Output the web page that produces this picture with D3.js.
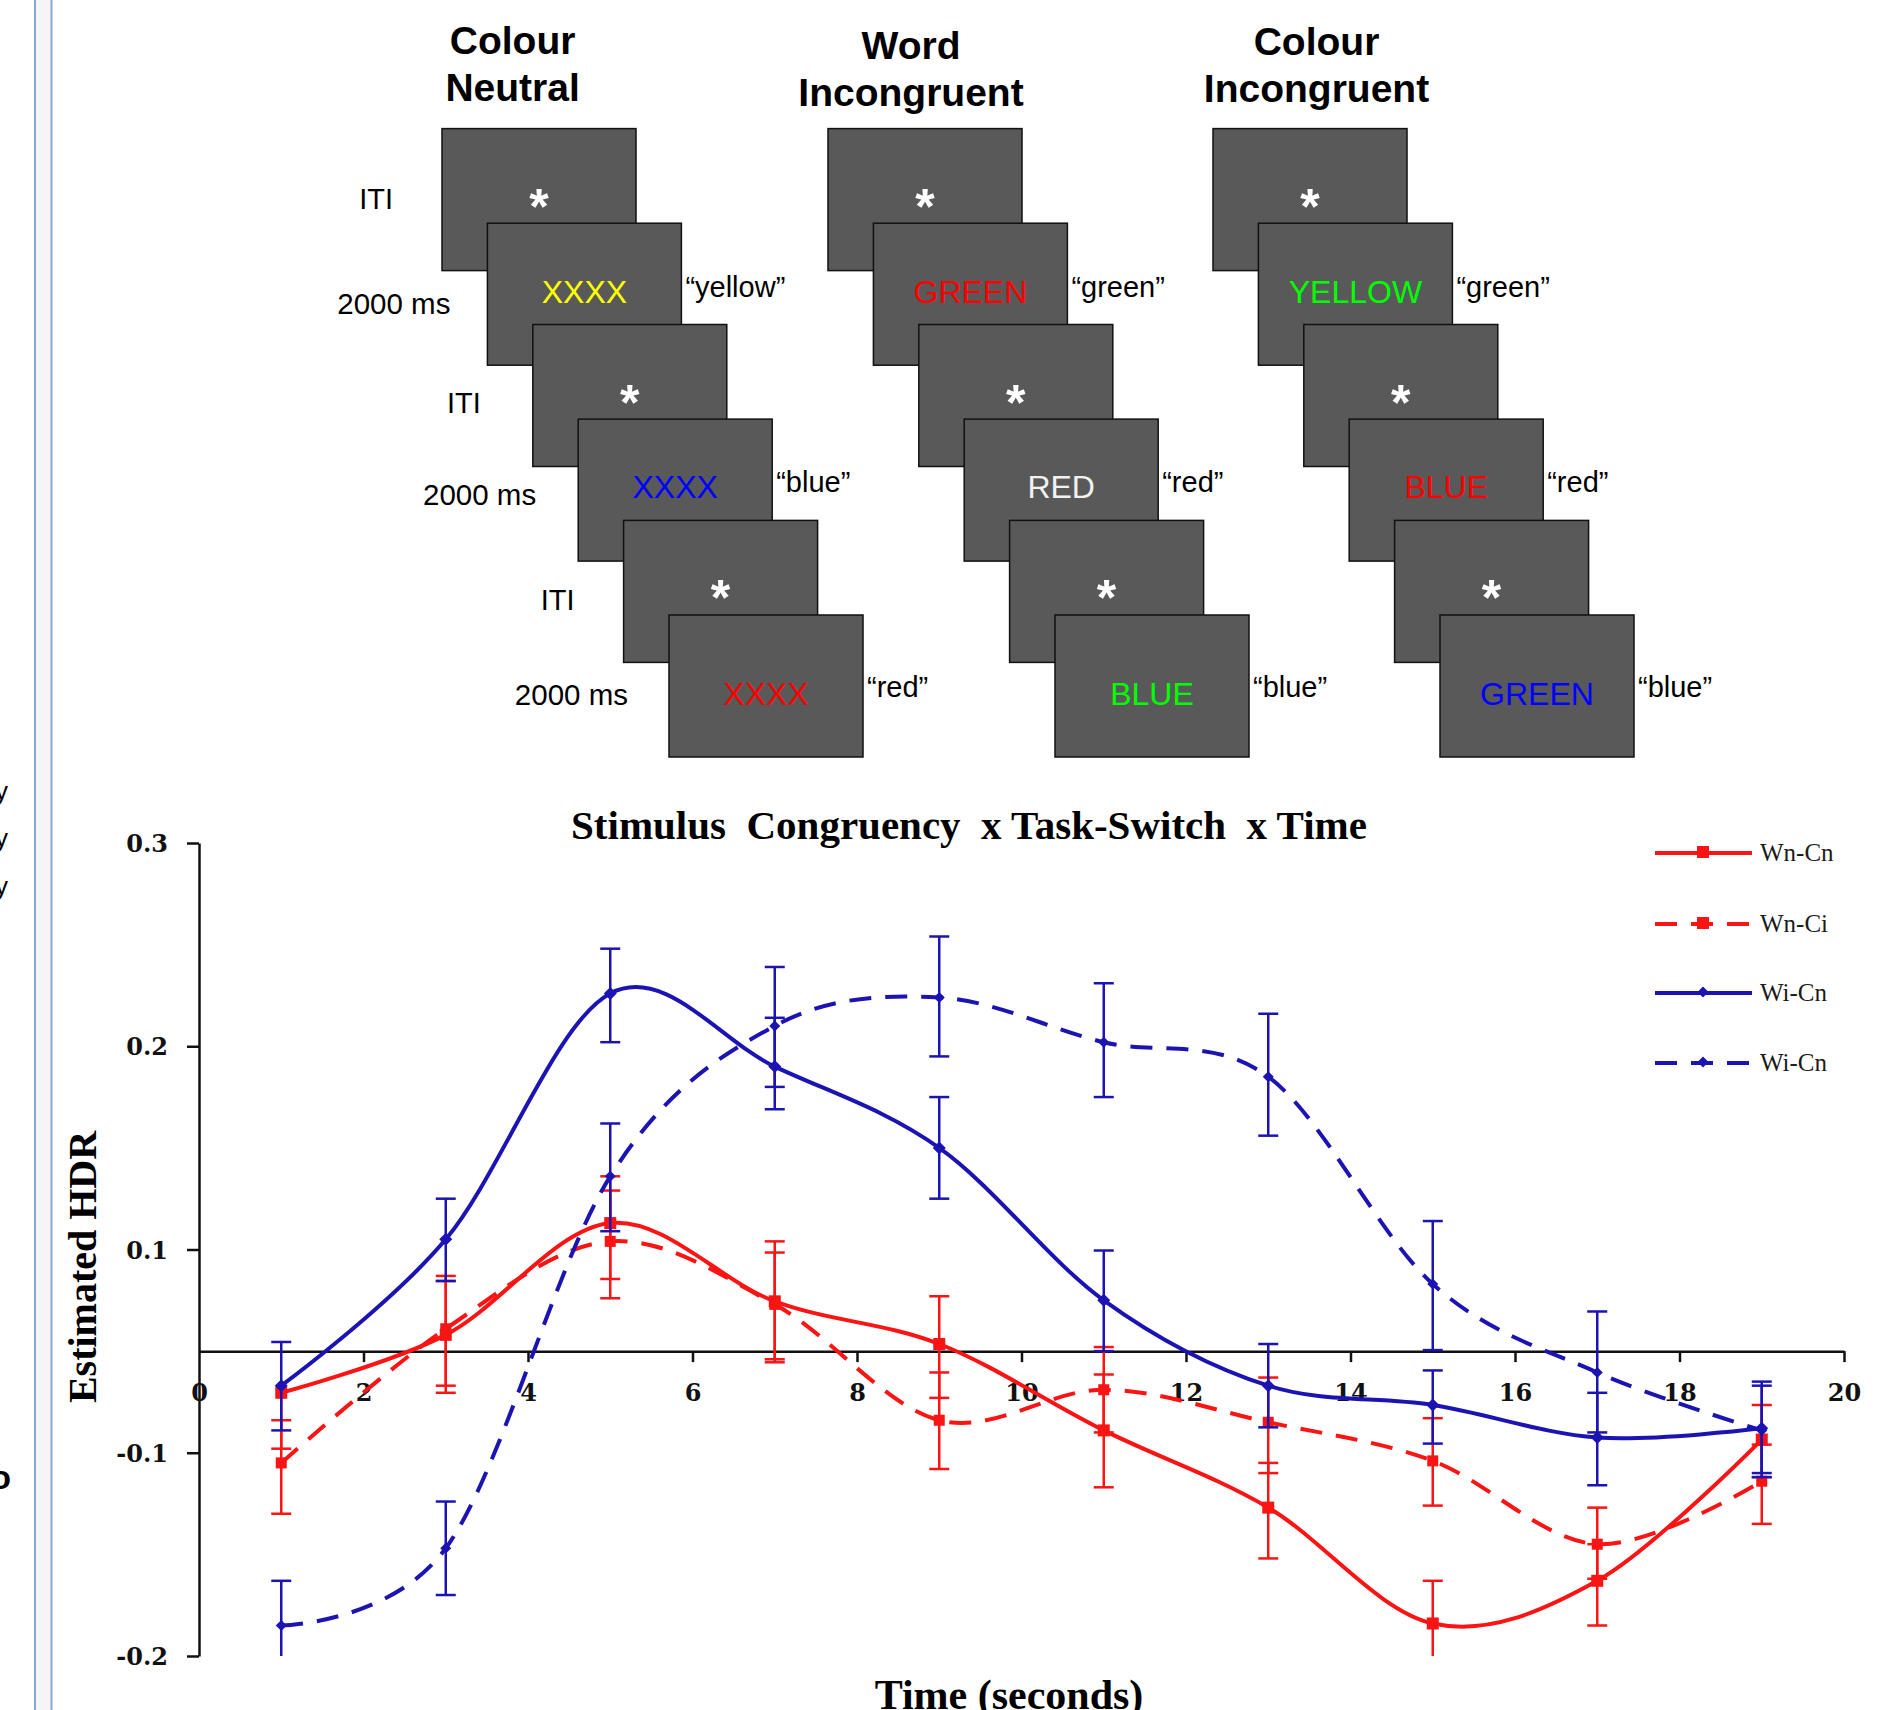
<!DOCTYPE html>
<html>
<head>
<meta charset="utf-8">
<script src="https://cdn.jsdelivr.net/npm/d3@7"></script>
<style>
  html, body { margin: 0; padding: 0; background: #fff; }
  svg { display: block; }
  .sans { font-family: "Liberation Sans", Arial, sans-serif; }
  .serif { font-family: "Liberation Serif", "Times New Roman", serif; }
  .tick-font { font-family: "DejaVu Serif", serif; font-weight: bold; }
</style>
</head>
<body>
<script>
/** Task diagram: one column per condition. */
const conditionTitles = [["Colour", "Neutral"], ["Word", "Incongruent"], ["Colour", "Incongruent"]];
const stimulusWords = [["XXXX", "XXXX", "XXXX"], ["GREEN", "RED", "BLUE"], ["YELLOW", "BLUE", "GREEN"]];
const inkColours = [["#ffff00", "#0000ff", "#ff0000"], ["#ff0000", "#f2f2f2", "#00ff00"], ["#00ff00", "#ff0000", "#0000ff"]];
const responses = [["“yellow”", "“blue”", "“red”"], ["“green”", "“red”", "“blue”"], ["“green”", "“red”", "“blue”"]];
const itiLabel = "ITI";
const durationLabel = "2000 ms";

/** Chart data: estimated HDR per time point (seconds). */
const timePoints = [1, 3, 5, 7, 9, 11, 13, 15, 17, 19];
const seriesNames = ["Wn-Cn", "Wn-Ci", "Wi-Cn", "Wi-Cn"];
const wnCn = [-0.041, 0.016, 0.113, 0.049, 0.007, -0.078, -0.127, -0.184, -0.163, -0.087];
const wnCnHi = [null, 0.069, 0.136, 0.097, 0.054, -0.023, -0.105, -0.163, -0.145, -0.053];
const wnCnLo = [-0.096, -0.041, 0.071, -0.008, -0.046, -0.117, -0.152, -0.205, -0.185, -0.112];
const wnCi = [-0.105, 0.022, 0.104, 0.046, -0.068, -0.038, -0.070, -0.104, -0.145, -0.114];
const wnCiHi = [-0.068, 0.074, 0.129, 0.104, -0.021, 0.004, -0.026, -0.066, -0.127, -0.092];
const wnCiLo = [-0.130, -0.034, 0.052, -0.011, -0.108, -0.080, -0.110, -0.126, -0.162, -0.135];
const wiCn = [-0.034, 0.105, 0.226, 0.190, 0.150, 0.050, -0.034, -0.053, -0.085, -0.076];
const wiCnHi = [0.009, 0.125, 0.248, 0.214, 0.175, 0.099, 0.007, -0.019, -0.041, -0.030];
const wiCnLo = [-0.078, 0.069, 0.202, 0.169, 0.125, 0.000, -0.075, -0.091, -0.116, -0.110];
const wiCi = [-0.185, -0.147, 0.136, 0.210, 0.224, 0.202, 0.185, 0.066, -0.021, -0.078];
const wiCiHi = [-0.163, -0.124, 0.162, 0.239, 0.254, 0.231, 0.216, 0.114, 0.039, -0.034];
const wiCiLo = [-0.210, -0.170, 0.109, 0.180, 0.195, 0.175, 0.156, 0.001, -0.080, -0.112];
const yTicks = [0.3, 0.2, 0.1, -0.1, -0.2];
const xTicks = [0, 2, 4, 6, 8, 10, 12, 14, 16, 18, 20];

const W = 1880, H = 1710;
const RED = "#fa1414", BLUE = "#1c14b2";

const svg = d3.select("body").append("svg").attr("width", W).attr("height", H);

/** Page margin lines on the left edge. */
svg.append("rect").attr("x", 36).attr("y", 0).attr("width", 15).attr("height", H).attr("fill", "#f5f5f5");
[35, 51.5].forEach((x) =>
  svg.append("line").attr("x1", x).attr("x2", x).attr("y1", 0).attr("y2", H)
    .attr("stroke", "#86a7d6").attr("stroke-width", 2)
);
/** Cut-off letters from the neighbouring page (cut in the original too). */
[800, 847, 895].forEach((y) =>
  svg.append("text").attr("class", "sans").attr("x", 8).attr("y", y)
    .attr("text-anchor", "end").attr("font-size", 26).text("y")
);
svg.append("text").attr("class", "sans").attr("x", 11).attr("y", 1489)
  .attr("text-anchor", "end").attr("font-size", 34).attr("font-weight", "bold").text("o");

/* ---------- task diagram ---------- */
const colX0 = [442, 828, 1213];
const colTitleX = [512.6, 911, 1316.5];
const colTitleY = [54, 59, 55];
const boxW = 194, boxH = 142, stepX = 45.4;
const itiTop = (k) => 128.6 + k * 195.9;
const stimGap = 94.6;
const wordDy = [80, 79, 90];
const quoteDy = [73.5, 73, 82];
const durDy = [90.4, 85.6, 89.7];
const durDx = [37, 42, 41];
const itiDy = [80.4, 88, 90];
const itiDx = [49, 52, 49];

const diagram = svg.append("g").attr("class", "sans");

conditionTitles.forEach((lines, c) => {
  const t = diagram.append("text")
    .attr("x", colTitleX[c]).attr("y", colTitleY[c])
    .attr("text-anchor", "middle").attr("font-size", 39).attr("font-weight", "bold");
  lines.forEach((s, i) =>
    t.append("tspan").attr("x", colTitleX[c]).attr("dy", i ? 47 : 0).text(s)
  );

  stimulusWords[c].forEach((word, k) => {
    const ix = colX0[c] + 2 * k * stepX;
    const iy = itiTop(k);
    const sx = ix + stepX;
    const sy = iy + stimGap;

    diagram.append("rect").attr("x", ix).attr("y", iy).attr("width", boxW).attr("height", boxH)
      .attr("fill", "#595959").attr("stroke", "#111").attr("stroke-width", 1.5);
    diagram.append("text").attr("x", ix + boxW / 2).attr("y", iy + 95)
      .attr("text-anchor", "middle").attr("font-size", 50).attr("font-weight", "bold")
      .attr("fill", "#fff").text("*");

    diagram.append("rect").attr("x", sx).attr("y", sy).attr("width", boxW).attr("height", boxH)
      .attr("fill", "#595959").attr("stroke", "#111").attr("stroke-width", 1.5);
    diagram.append("text").attr("x", sx + boxW / 2).attr("y", sy + wordDy[k])
      .attr("text-anchor", "middle").attr("font-size", 32)
      .attr("fill", inkColours[c][k]).text(word);

    diagram.append("text").attr("x", sx + boxW + 4).attr("y", sy + quoteDy[k])
      .attr("font-size", 29).text(responses[c][k]);

    if (c === 0) {
      diagram.append("text").attr("x", ix - itiDx[k]).attr("y", iy + itiDy[k])
        .attr("text-anchor", "end").attr("font-size", 29).text(itiLabel);
      diagram.append("text").attr("x", sx - durDx[k]).attr("y", sy + durDy[k])
        .attr("text-anchor", "end").attr("font-size", 29.5).text(durationLabel);
    }
  });
});

/* ---------- HDR chart ---------- */
const x = d3.scaleLinear().domain([0, 20]).range([199, 1844]);
/** Axis labels skip 0: 0.1 and -0.1 sit one tick apart, so the scale is piecewise. */
const y = d3.scaleLinear().domain([-0.2, -0.1, 0.1, 0.3]).range([1656, 1452.75, 1249.5, 843]);
const yMin = -0.2, yMax = 0.3;

const chart = svg.append("g");

chart.append("text").attr("class", "serif")
  .attr("x", 969).attr("y", 839).attr("text-anchor", "middle")
  .attr("font-size", 41).attr("font-weight", "bold").style("white-space", "pre")
  .text("Stimulus  Congruency  x Task-Switch  x Time");

chart.append("text").attr("class", "serif")
  .attr("transform", "translate(96,1267) rotate(-90)")
  .attr("text-anchor", "middle").attr("font-size", 40).attr("font-weight", "bold")
  .text("Estimated HDR");

chart.append("text").attr("class", "serif")
  .attr("x", 1009).attr("y", 1709).attr("text-anchor", "middle")
  .attr("font-size", 42).attr("font-weight", "bold")
  .text("Time (seconds)");

/** Y axis (left). */
const yAxis = chart.append("g").attr("transform", `translate(${x(0)},0)`)
  .call(d3.axisLeft(y).tickValues(yTicks).tickSize(12).tickSizeOuter(0).tickPadding(19)
    .tickFormat((d) => d.toFixed(1)));
yAxis.select(".domain").attr("stroke", "#111").attr("stroke-width", 2.5);
yAxis.selectAll(".tick line").attr("stroke", "#111").attr("stroke-width", 2.5);
yAxis.selectAll(".tick text").attr("class", "tick-font").attr("font-size", 24)
  .attr("fill", "#111").attr("dy", "0.36em");

/** X axis crossing at 0. */
const xAxis = chart.append("g").attr("transform", `translate(0,${y(0)})`)
  .call(d3.axisBottom(x).tickValues(xTicks).tickSize(11).tickSizeOuter(0));
xAxis.select(".domain").attr("stroke", "#111").attr("stroke-width", 2.5);
xAxis.selectAll(".tick line").attr("stroke", "#111").attr("stroke-width", 2.5);
xAxis.selectAll(".tick text").attr("class", "tick-font").attr("font-size", 24)
  .attr("fill", "#111").attr("y", 50).attr("dy", 0);
xAxis.selectAll(".tick").filter((d) => d === 0).select("line").remove();

const series = [
  { name: seriesNames[0], v: wnCn, hi: wnCnHi, lo: wnCnLo, color: RED, dash: null, marker: "square", size: 12 },
  { name: seriesNames[1], v: wnCi, hi: wnCiHi, lo: wnCiLo, color: RED, dash: "22,14", marker: "square", size: 11 },
  { name: seriesNames[2], v: wiCn, hi: wiCnHi, lo: wiCnLo, color: BLUE, dash: null, marker: "diamond", size: 13 },
  { name: seriesNames[3], v: wiCi, hi: wiCiHi, lo: wiCiLo, color: BLUE, dash: "22,14", marker: "diamond", size: 11 },
];

const line = d3.line()
  .x((d) => x(d.t)).y((d) => y(d.v))
  .curve(d3.curveCatmullRom.alpha(0));

/** Draw a square or diamond marker. */
function marker(g, kind, cx, cy, size, color) {
  const h = size / 2;
  if (kind === "square") {
    g.append("rect").attr("x", cx - h).attr("y", cy - h).attr("width", size).attr("height", size).attr("fill", color);
  } else {
    g.append("path").attr("d", `M${cx},${cy - h}L${cx + h},${cy}L${cx},${cy + h}L${cx - h},${cy}Z`).attr("fill", color);
  }
}

const capW = 20;
series.forEach((s) => {
  const g = chart.append("g");
  const pts = timePoints.map((t, i) => ({ t, v: s.v[i], hi: s.hi[i], lo: s.lo[i] }));

  /** Error bars; ends outside the axis range are clipped without a cap. */
  pts.forEach((p) => {
    const top = p.hi === null ? p.v : Math.min(p.hi, yMax);
    const bot = Math.max(p.lo, yMin);
    g.append("line").attr("x1", x(p.t)).attr("x2", x(p.t)).attr("y1", y(top)).attr("y2", y(bot))
      .attr("stroke", s.color).attr("stroke-width", 2.5);
    const caps = [];
    if (p.hi !== null && p.hi <= yMax) caps.push(p.hi);
    if (p.lo >= yMin) caps.push(p.lo);
    caps.forEach((c) =>
      g.append("line").attr("x1", x(p.t) - capW / 2).attr("x2", x(p.t) + capW / 2)
        .attr("y1", y(c)).attr("y2", y(c)).attr("stroke", s.color).attr("stroke-width", 2.5)
    );
  });

  g.append("path").datum(pts).attr("d", line)
    .attr("fill", "none").attr("stroke", s.color).attr("stroke-width", 4)
    .attr("stroke-dasharray", s.dash);

  pts.forEach((p) => marker(g, s.marker, x(p.t), y(p.v), s.size, s.color));
});

/** Legend. */
const legendY = [853, 924, 993, 1063];
const legend = chart.append("g");
series.forEach((s, i) => {
  const ly = legendY[i];
  legend.append("line").attr("x1", 1655).attr("x2", 1752).attr("y1", ly).attr("y2", ly)
    .attr("stroke", s.color).attr("stroke-width", 4).attr("stroke-dasharray", s.dash);
  marker(legend, s.marker, 1703, ly - 1, s.marker === "square" ? 12 : 11, s.color);
  legend.append("text").attr("class", "serif").attr("x", 1760).attr("y", ly + 8)
    .attr("font-size", 25).attr("fill", "#1a1a1a").text(s.name);
});
</script>
</body>
</html>
